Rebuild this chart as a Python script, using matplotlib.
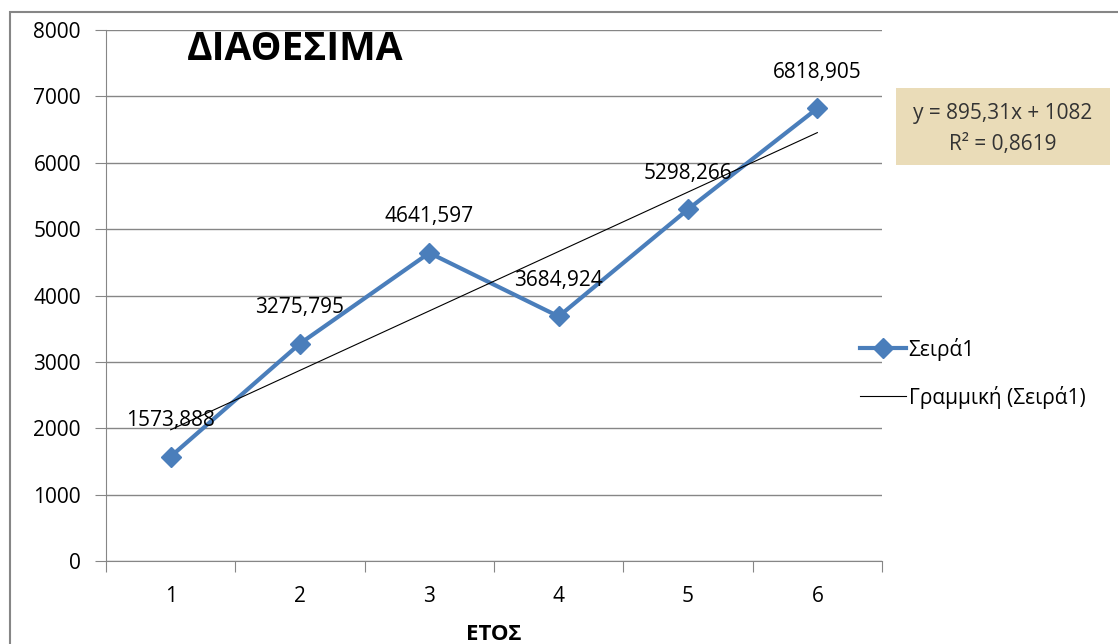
import numpy as np
import matplotlib.pyplot as plt
from matplotlib.patches import Rectangle

# data
years = [1, 2, 3, 4, 5, 6]
values = [1573.888, 3275.795, 4641.597, 3684.924, 5298.266, 6818.905]
value_labels = ["1573,888", "3275,795", "4641,597", "3684,924", "5298,266", "6818,905"]
slope, intercept = 895.31, 1082
yticks = [0, 1000, 2000, 3000, 4000, 5000, 6000, 7000, 8000]

plt.rcParams['font.family'] = ['Open Sans', 'Noto Sans', 'DejaVu Sans']
fs = 15

fig = plt.figure(figsize=(11.18, 6.44), dpi=100)
ax = fig.add_axes([106 / 1118, 1 - 561 / 644, (882 - 106) / 1118, (561 - 30) / 644])

# outer chart border
fig.patches.append(Rectangle((10 / 1118, -0.1), 1.2, 1 - 12 / 644 + 0.1,
                             transform=fig.transFigure, fill=False,
                             edgecolor="#868686", linewidth=1.5))

blue = "#4a7ebb"
ax.plot(years, values, color=blue, linewidth=3, marker="D", markersize=10,
        label="Σειρά1", zorder=3)

x = np.array([years[0], years[-1]])
ax.plot(x, slope * x + intercept, color="black", linewidth=0.8,
        label="Γραμμική (Σειρά1)", zorder=4)

for xi, v, lab in zip(years, values, value_labels):
    ax.annotate(lab, (xi, v), xytext=(0, 26), textcoords="offset points",
                ha="center", va="center", fontsize=fs, zorder=5)

ax.set_xlim(0.5, 6.5)
ax.set_ylim(0, 8000)
ax.set_yticks(yticks)
ax.yaxis.grid(True, color="#868686", linewidth=1)
ax.set_axisbelow(True)

# category axis: ticks between categories, labels centered
ax.set_xticks(np.arange(0.5, 7, 1))
ax.set_xticklabels([])
ax.set_xticks(years, minor=True)
ax.set_xticklabels([str(y) for y in years], minor=True, fontsize=fs)
ax.tick_params(axis="x", which="minor", length=0, pad=18)
ax.tick_params(axis="x", which="major", length=8, color="#868686")
ax.tick_params(axis="y", length=8, color="#868686", labelsize=fs, pad=10)

for s in ["top", "right"]:
    ax.spines[s].set_visible(False)
ax.spines["left"].set_color("#868686")
ax.spines["bottom"].set_color("#868686")

ax.set_xlabel("ΕΤΟΣ", fontsize=16, fontweight="bold", labelpad=12)

fig.text(187 / 1118, 1 - 50 / 644, "ΔΙΑΘΕΣΙΜΑ", fontsize=28, fontweight="bold",
         ha="left", va="center")

# equation box
fig.patches.append(Rectangle((896 / 1118, 1 - 165 / 644), 214 / 1118, 77 / 644,
                             transform=fig.transFigure, facecolor="#eadcb8",
                             edgecolor="none"))
fig.text(1003 / 1118, 1 - 114 / 644, "y = 895,31x + 1082", fontsize=fs,
         ha="center", va="center", color="#333333")
fig.text(1003 / 1118, 1 - 145 / 644, "R² = 0,8619", fontsize=fs,
         ha="center", va="center", color="#333333")

fig.legend(loc="upper left", bbox_to_anchor=(841 / 1118, 1 - 319 / 644),
           frameon=False, fontsize=fs, handlelength=2.2, labelspacing=1.2,
           handletextpad=0.15)

fig.savefig("out.png", dpi=100)
